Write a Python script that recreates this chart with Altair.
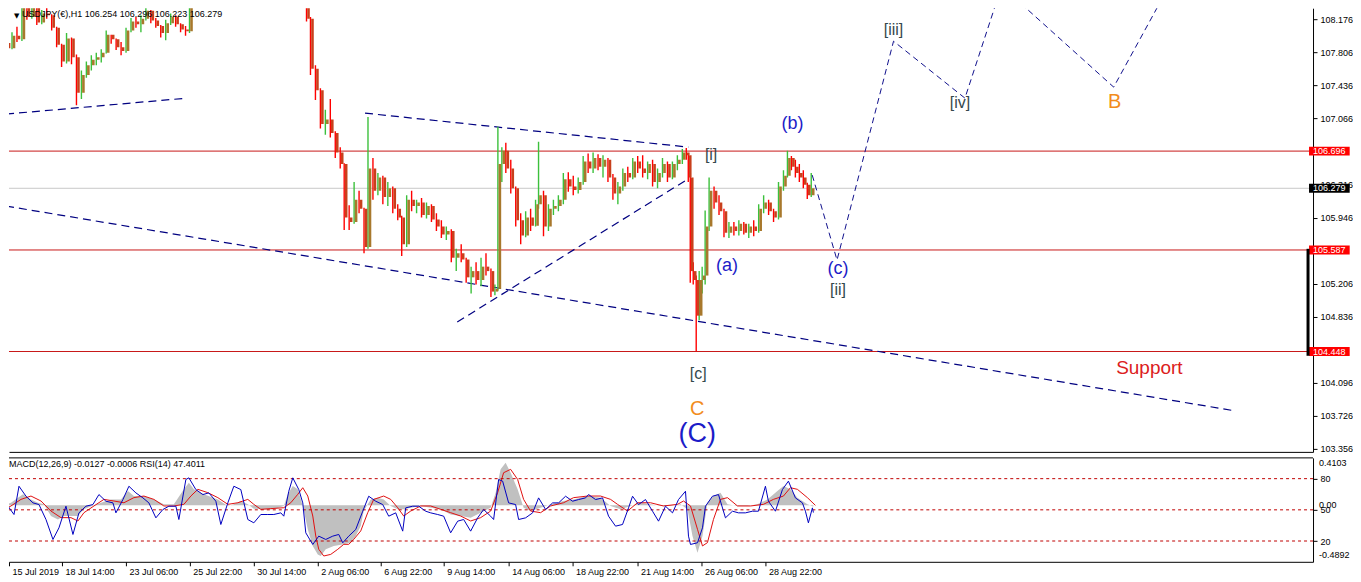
import altair as alt
import pandas as pd

FONT = "Liberation Sans"

# ---------------- price panel data (x = position of the H1 bar on the time axis) ----------------
candle_x = [2, 7, 12, 17, 22, 27, 32, 37, 42, 47, 52, 57, 62, 67, 72, 77, 82, 87, 92, 97,
            102, 107, 112, 117, 122, 127, 132, 137, 142, 147, 152, 157, 162, 167, 172, 177, 182, 186,
            304, 308, 313, 318, 323, 328, 333, 338, 342, 347, 352, 357, 362, 366, 371, 376, 381, 386,
            391, 396, 400, 405, 410, 415, 420, 425, 430, 435, 440, 445, 450, 455, 460, 465, 470, 475,
            480, 485, 490, 494, 497, 501, 505, 510, 515, 520, 525, 530, 535, 538, 543, 548, 553, 558,
            563, 568, 573, 578, 583, 588, 593, 598, 603, 608, 613, 618, 623, 628, 633, 638, 643, 648,
            653, 658, 663, 668, 673, 678, 683, 687, 689, 691, 694, 697, 700, 703, 706, 710, 715, 720,
            725, 730, 735, 740, 745, 750, 755, 760, 765, 770, 775, 780, 785, 789, 793, 797, 801, 805,
            809, 813]
candle_open = [107.91, 107.85, 107.99, 107.95, 108.30, 108.20, 108.30, 108.14, 108.24, 108.22,
               108.08, 107.89, 107.70, 107.96, 107.75, 107.35, 107.55, 107.66, 107.72, 107.75,
               107.80, 108.00, 107.95, 107.86, 107.82, 108.05, 108.15, 108.12, 108.18, 108.27,
               108.16, 108.10, 108.02, 108.13, 108.20, 108.12, 108.06, 108.04,
               108.50, 108.18, 107.62, 107.38, 107.00, 107.05, 106.90, 106.68, 106.55, 105.95,
               105.90, 106.15, 106.05, 105.62, 106.50, 106.25, 106.40, 106.18, 106.28, 106.05,
               105.95, 105.65, 106.15, 106.08, 106.12, 105.98, 106.08, 105.93, 105.85, 105.76,
               105.80, 105.50, 105.55, 105.48, 105.28, 105.35, 105.25, 105.40, 105.35, 105.12,
               105.15, 106.55, 106.70, 106.50, 106.28, 105.92, 105.75, 105.95, 105.86, 106.10,
               106.20, 105.85, 106.05, 106.08, 106.15, 106.38, 106.30, 106.26, 106.35, 106.58,
               106.50, 106.62, 106.52, 106.60, 106.40, 106.22, 106.30, 106.45, 106.40, 106.58,
               106.50, 106.45, 106.55, 106.35, 106.45, 106.55, 106.40, 106.55, 106.60, 106.68,
               106.65, 106.40, 105.35, 105.25, 104.85, 105.25, 105.30, 105.85, 106.25, 106.12,
               106.02, 105.78, 105.85, 105.80, 105.88, 105.78, 105.85, 105.80, 106.05, 106.12,
               106.02, 105.95, 106.30, 106.42, 106.62, 106.52, 106.45, 106.40, 106.32, 106.20]
candle_high = [107.94, 108.03, 108.09, 108.37, 108.33, 108.37, 108.31, 108.28, 108.30, 108.23,
               108.09, 107.90, 108.02, 107.97, 107.78, 107.60, 107.70, 107.77, 107.80, 107.84,
               108.05, 108.00, 107.96, 107.92, 108.08, 108.19, 108.20, 108.22, 108.30, 108.28,
               108.19, 108.11, 108.17, 108.24, 108.22, 108.13, 108.10, 108.45,
               108.55, 108.20, 107.66, 107.40, 107.16, 107.28, 106.92, 106.74, 106.56, 106.09,
               106.35, 106.25, 106.06, 107.08, 106.62, 106.45, 106.42, 106.35, 106.30, 106.10,
               105.97, 106.20, 106.25, 106.15, 106.17, 106.12, 106.10, 106.00, 105.92, 105.85,
               105.82, 105.60, 105.65, 105.50, 105.40, 105.45, 105.50, 105.55, 105.38, 105.20,
               106.97, 106.74, 106.79, 106.60, 106.30, 106.00, 106.02, 106.05, 106.15, 106.80,
               106.25, 106.10, 106.15, 106.20, 106.45, 106.46, 106.42, 106.40, 106.64, 106.67,
               106.68, 106.66, 106.65, 106.62, 106.44, 106.35, 106.50, 106.52, 106.62, 106.64,
               106.65, 106.58, 106.60, 106.50, 106.62, 106.58, 106.58, 106.65, 106.72, 106.73,
               106.66, 106.45, 105.45, 105.30, 105.35, 105.40, 106.03, 106.40, 106.30, 106.20,
               106.05, 105.90, 105.90, 105.92, 105.90, 105.88, 105.92, 106.10, 106.20, 106.15,
               106.05, 106.35, 106.48, 106.70, 106.64, 106.60, 106.55, 106.48, 106.34, 106.45]
candle_low = [107.83, 107.84, 107.92, 107.93, 108.17, 108.18, 108.11, 108.12, 108.18, 108.05,
              107.86, 107.64, 107.68, 107.67, 107.21, 107.28, 107.52, 107.60, 107.66, 107.69,
              107.79, 107.90, 107.83, 107.77, 107.80, 108.03, 108.08, 108.03, 108.16, 108.13,
              108.08, 107.97, 107.94, 108.11, 108.09, 108.03, 107.99, 108.02,
              108.15, 107.55, 107.27, 106.95, 106.88, 106.85, 106.62, 106.50, 105.81, 105.81,
              105.88, 106.00, 105.55, 105.60, 106.15, 106.20, 106.10, 106.08, 106.00, 105.92,
              105.52, 105.62, 106.02, 106.00, 105.95, 105.94, 105.90, 105.80, 105.72, 105.70,
              105.45, 105.35, 105.45, 105.22, 105.10, 105.20, 105.18, 105.30, 105.06, 105.08,
              105.13, 106.35, 106.45, 106.22, 105.85, 105.65, 105.73, 105.80, 105.85, 106.05,
              105.74, 105.80, 105.98, 106.02, 106.10, 106.24, 106.20, 106.22, 106.32, 106.45,
              106.45, 106.48, 106.40, 106.35, 106.15, 106.10, 106.25, 106.35, 106.38, 106.45,
              106.40, 106.38, 106.30, 106.28, 106.40, 106.35, 106.38, 106.48, 106.55, 106.60,
              106.35, 105.22, 105.20, 104.45, 104.80, 105.10, 105.20, 105.80, 106.05, 105.98,
              105.73, 105.72, 105.75, 105.75, 105.76, 105.72, 105.74, 105.78, 106.00, 105.98,
              105.90, 105.93, 106.25, 106.40, 106.48, 106.40, 106.35, 106.28, 106.16, 106.18]
candle_close = [107.85, 107.99, 107.95, 108.30, 108.20, 108.30, 108.14, 108.24, 108.22, 108.08,
                107.89, 107.70, 107.96, 107.75, 107.35, 107.55, 107.66, 107.72, 107.75, 107.80,
                108.00, 107.95, 107.86, 107.82, 108.05, 108.15, 108.12, 108.18, 108.27, 108.16,
                108.10, 108.02, 108.13, 108.20, 108.12, 108.06, 108.04, 108.40,
                108.18, 107.62, 107.38, 107.00, 107.05, 106.90, 106.68, 106.55, 105.95, 105.90,
                106.15, 106.05, 105.62, 106.50, 106.25, 106.40, 106.18, 106.28, 106.05, 105.95,
                105.65, 106.15, 106.08, 106.12, 105.98, 106.08, 105.93, 105.85, 105.76, 105.80,
                105.50, 105.55, 105.48, 105.28, 105.35, 105.25, 105.40, 105.35, 105.12, 105.15,
                106.55, 106.70, 106.50, 106.28, 105.92, 105.75, 105.95, 105.86, 106.10, 106.20,
                105.85, 106.05, 106.08, 106.15, 106.38, 106.30, 106.26, 106.35, 106.58, 106.50,
                106.62, 106.52, 106.60, 106.40, 106.22, 106.30, 106.45, 106.40, 106.58, 106.50,
                106.45, 106.55, 106.35, 106.45, 106.55, 106.40, 106.55, 106.60, 106.68, 106.65,
                106.40, 105.35, 105.25, 104.85, 105.25, 105.30, 105.85, 106.25, 106.12, 106.02,
                105.78, 105.85, 105.80, 105.88, 105.78, 105.85, 105.80, 106.05, 106.12, 106.02,
                105.95, 106.30, 106.42, 106.62, 106.52, 106.45, 106.40, 106.32, 106.20, 106.279]

level_prices = [106.696, 105.587, 104.448]
last_price = 106.279
# scale labels of the price axis that are not hidden behind the level boxes
price_ticks = [108.176, 107.806, 107.436, 107.066, 106.316, 105.946,
               105.206, 104.836, 104.096, 103.726, 103.356]

trend_id = ["t1", "t1", "t2", "t2", "t3", "t3", "t4", "t4"]
trend_x = [0, 182, 0, 1240, 362, 688, 455, 686]
trend_p = [107.111, 107.290, 106.080, 103.781, 107.122, 106.741, 104.779, 106.371]

path_x = [813, 838, 895, 967, 1004, 1117, 1176]
path_p = [106.427, 105.474, 107.929, 107.290, 108.546, 107.414, 108.613]

blue_text = ["(a)", "(b)", "(c)"]
blue_x = [727, 793, 839]
blue_p = [105.407, 106.999, 105.373]
grey_text = ["[i]", "[ii]", "[iii]", "[iv]", "[c]"]
grey_x = [711, 839, 895, 962, 698]
grey_p = [106.651, 105.138, 108.053, 107.234, 104.196]
orange_text = ["C", "B"]
orange_x = [697, 1118]
orange_p = [103.804, 107.245]
big_text = ["(C)"]
big_x = [697]
big_p = [103.523]
support_text = ["Support"]
support_x = [1153]
support_p = [104.263]

# ---------------- indicator panel data ----------------
rsi_x = [0, 7, 13, 18, 25, 32, 38, 45, 52, 58, 65, 72, 78, 85, 92, 98, 105, 112, 115, 122,
         128, 135, 142, 148, 155, 162, 168, 175, 178, 185, 188, 195, 202, 208, 215, 220, 227, 233, 240, 247,
         253, 260, 267, 273, 280, 283, 288, 292, 298, 302, 305, 312, 318, 325, 332, 338, 342, 348, 355, 362,
         368, 375, 382, 388, 395, 402, 405, 412, 418, 425,
         430, 437, 443, 450, 457, 463, 470, 477, 483, 490, 493, 498, 502, 508, 515, 518, 525, 532, 538, 545,
         552, 558, 565, 572, 578, 585, 588, 595, 602, 608, 615, 622, 628, 632, 638, 645, 652, 658, 665, 672,
         678, 685, 688, 690, 697, 702, 705, 712, 718, 725, 732, 738, 745, 752, 758, 765, 768, 775, 782, 788,
         795, 802, 805, 808, 812, 813]
rsi_v = [43.9, 53.5, 45.5, 72.7, 63.1, 56.7, 55.1, 40.7, 21.5, 32.7, 53.5, 26.3, 47.1, 53.5, 55.1, 64.7, 58.3, 56.7, 47.1, 59.9,
         72.7, 66.3, 61.5, 56.7, 42.3, 50.3, 53.5, 53.5, 40.7, 79.2, 80.8, 69.5, 64.7, 66.3, 58.3, 35.9, 56.7, 72.7, 69.5, 40.7,
         37.5, 45.5, 45.5, 45.5, 47.1, 43.9, 67.9, 80.8, 69.5, 56.7, 27.9, 16.7, 24.7, 21.5, 24.7, 26.3, 18.3, 24.7, 31.1, 48.7,
         63.1, 58.3, 55.1, 43.9, 47.1, 29.5, 51.9, 53.5, 53.5, 48.7,
         47.1, 45.5, 43.9, 27.9, 39.1, 40.7, 29.5, 42.3, 50.3, 43.9, 40.7, 79.2, 77.6, 56.7, 55.1, 40.7, 42.3, 47.1, 61.5, 50.3,
         56.7, 56.7, 63.1, 58.3, 59.9, 61.5, 64.7, 59.9, 61.5, 43.9, 34.3, 35.9, 51.9, 63.1, 55.1, 59.9, 48.7, 39.1, 53.5, 47.1,
         59.9, 67.9, 24.7, 16.7, 18.3, 32.7, 53.5, 63.1, 64.7, 42.3, 48.7, 47.1, 47.1, 48.7, 48.7, 72.7, 58.3, 48.7, 69.5, 77.6,
         61.5, 56.7, 48.7, 37.5, 51.9, 47.4]

signal_x = [0, 10, 20, 30, 40, 50, 60, 70, 77, 83, 93, 103, 113, 123, 133, 143, 153, 163, 173, 183,
            190, 197, 207, 217, 227, 237, 247, 253, 260, 270, 283, 290, 297, 302, 307, 312, 315, 318, 323, 330,
            337, 343, 348, 353, 360, 367, 373, 383, 390, 397, 403, 410, 420, 430, 440, 450, 460, 470, 480, 490,
            497, 503, 510, 517, 523, 530, 540, 550, 563, 573, 587, 600, 610, 617, 627, 637, 650, 663, 677, 683,
            690, 697, 702, 707, 713, 720, 727, 737, 750, 763, 773, 783, 790, 797, 807, 815]
signal_v = [-0.050, -0.006, 0.051, 0.080, 0.037, -0.050, -0.107, -0.107, -0.136, -0.064,
            -0.006, 0.051, 0.037, 0.022, 0.066, 0.080, 0.051, -0.006, -0.006, 0.008,
            0.080, 0.138, 0.109, 0.066, 0.008, 0.022, 0.051, 0.008, -0.035, -0.029,
            -0.021, 0.022, 0.095, 0.152, 0.080, -0.093, -0.266, -0.381, -0.439, -0.425,
            -0.381, -0.338, -0.338, -0.295, -0.222, -0.064, 0.051, 0.080, 0.051, -0.021,
            -0.093, -0.050, -0.006, -0.006, -0.035, -0.064, -0.093, -0.136, -0.107, -0.050,
            0.109, 0.282, 0.311, 0.224, 0.051, -0.050, -0.064, -0.006, 0.022, 0.066,
            0.080, 0.080, 0.051, 0.008, -0.050, 0.022, 0.022, -0.006, 0.008, 0.037,
            -0.006, -0.208, -0.352, -0.323, -0.122, 0.051, 0.066, -0.006, -0.006, 0.008,
            0.051, 0.080, 0.152, 0.138, 0.066, -0.0006]

macd_x = [0, 10, 17, 22, 30, 37, 43, 50, 57, 63, 72, 77, 83, 93, 100, 110, 120, 127, 133, 143,
          153, 163, 173, 183, 188, 193, 203, 217, 227, 233, 240, 247, 253, 263, 273, 283, 287, 292, 297, 302,
          307, 312, 317, 320, 325, 333, 343, 350, 355, 360, 363, 367, 370, 377, 383, 390, 397, 403, 410, 420,
          430, 440, 450, 460, 470, 480, 490, 495, 500, 505, 510, 517, 523, 530, 540, 550, 563, 573, 587, 600,
          610, 620, 630, 640, 650, 660, 670, 680, 687, 692, 697, 702, 707, 713, 720, 727, 737, 747, 757, 767,
          777, 783, 790, 797, 807, 813]
macd_v = [-0.006, 0.022, 0.066, 0.095, 0.051, 0.022, 0.008, -0.093, -0.122, -0.093,
          -0.093, -0.093, -0.035, 0.000, 0.022, 0.051, 0.051, 0.123, 0.080, 0.080,
          0.051, 0.008, 0.008, 0.138, 0.196, 0.138, 0.095, 0.051, -0.006, 0.008,
          0.037, 0.008, -0.029, -0.035, -0.035, -0.006, 0.095, 0.167, 0.138, -0.006,
          -0.208, -0.352, -0.425, -0.439, -0.381, -0.352, -0.338, -0.323, -0.266, -0.179,
          -0.050, 0.008, 0.051, 0.066, 0.051, -0.006, -0.035, -0.035, -0.021, -0.006,
          -0.021, -0.035, -0.079, -0.093, -0.107, -0.064, -0.021, 0.109, 0.311, 0.368,
          0.282, 0.138, -0.021, -0.050, -0.021, 0.008, 0.037, 0.051, 0.080, 0.066,
          -0.006, -0.035, -0.006, 0.022, 0.008, -0.006, -0.006, 0.008, -0.035, -0.266,
          -0.410, -0.266, 0.022, 0.080, 0.109, 0.008, -0.006, -0.006, 0.008, 0.051,
          0.123, 0.167, 0.138, 0.066, 0.008, -0.0127]

rsi_levels = [80, 50, 20]
date_ticks = [8, 61, 125, 189, 253, 317, 380, 443, 508, 572, 637, 701, 765]
date_labels = ["15 Jul 2019", "18 Jul 14:00", "23 Jul 06:00", "25 Jul 22:00", "30 Jul 14:00",
               "2 Aug 06:00", "6 Aug 22:00", "9 Aug 14:00", "14 Aug 06:00", "18 Aug 22:00",
               "21 Aug 14:00", "26 Aug 06:00", "28 Aug 22:00"]

title_text = "USDJPY(€),H1  106.254 106.296 106.223 106.279"
sub_title_text = "MACD(12,26,9) -0.0127 -0.0006 RSI(14) 47.4011"

# ---------------- scales / axes ----------------
W, HM, HS = 1305, 444, 104
GREEN, RED, BROWN = "#3CC03C", "#FF0000", "#A8782C"
NAVY = "#000080"

x_scale = alt.Scale(domain=[8, 1313], nice=False, zero=False)
p_scale = alt.Scale(domain=[103.322, 108.299], nice=False, zero=False)
r_scale = alt.Scale(domain=[0, 100], nice=False, zero=False)
m_scale = alt.Scale(domain=[-0.4892, 0.4103], nice=False, zero=False)

ax_x_main = alt.Axis(title=None, labels=False, ticks=False, grid=False, domain=True,
                     domainColor="black", domainWidth=1)
label_expr = " : ".join(f"datum.value == {t} ? '{l}'" for t, l in zip(date_ticks, date_labels)) + " : ''"
ax_x_sub = alt.Axis(title=None, values=date_ticks, labelExpr=label_expr, labelAlign="left",
                    labelOffset=3, labelPadding=2, tickSize=4, tickColor="black", domainColor="black",
                    grid=False, labelFont=FONT, labelFontSize=9, labelColor="black",
                    labelOverlap=False, labelFlush=False, labelBound=False)
ax_p = alt.Axis(title=None, orient="right", values=price_ticks, format=".3f", grid=False, tickSize=4,
                tickColor="black", domainColor="black", labelFont=FONT, labelFontSize=9,
                labelColor="black", labelPadding=3, labelOverlap=False, labelFlush=False, labelBound=False)
ax_r = alt.Axis(title=None, orient="right", values=rsi_levels, format="d", grid=False, tickSize=4,
                tickColor="black", domainColor="black", labelFont=FONT, labelFontSize=9,
                labelColor="black", labelPadding=3, labelOverlap=False, labelFlush=False, labelBound=False)


def XM(f):
    return alt.X(f, type="quantitative", scale=x_scale, axis=ax_x_main)


def XS(f):
    return alt.X(f, type="quantitative", scale=x_scale, axis=ax_x_sub)


def YP(f):
    return alt.Y(f, type="quantitative", scale=p_scale, axis=ax_p)


def YR(f):
    return alt.Y(f, type="quantitative", scale=r_scale, axis=ax_r)


def YM(f):
    return alt.Y(f, type="quantitative", scale=m_scale, axis=None)


# ---------------- main panel ----------------
cdf = pd.DataFrame({"x": candle_x, "o": candle_open, "h": candle_high, "l": candle_low, "c": candle_close})
up = "datum.c >= datum.o"

wicks = alt.Chart(cdf).mark_rule(strokeWidth=1.4, clip=True, xOffset=-1).encode(
    x=XM("x"), y=YP("l"), y2=alt.Y2("h"),
    color=alt.condition(up, alt.value(GREEN), alt.value(RED)))
bodies = alt.Chart(cdf).mark_bar(size=2.6, clip=True, xOffset=1).encode(
    x=XM("x"), y=YP("o"), y2=alt.Y2("c"),
    color=alt.condition(up, alt.value(BROWN), alt.value("#C8401C")))

lv = pd.DataFrame({"p": level_prices})
levels = alt.Chart(lv).mark_rule(color="#C81818", strokeWidth=1).encode(y=YP("p"))
cur = alt.Chart(pd.DataFrame({"p": [last_price]})).mark_rule(color="#C8C8C8", strokeWidth=1).encode(y=YP("p"))

tdf = pd.DataFrame({"g": trend_id, "x": trend_x, "p": trend_p})
trends = alt.Chart(tdf).mark_line(color=NAVY, strokeWidth=1.2, strokeDash=[8, 5], clip=True).encode(
    x=XM("x"), y=YP("p"), detail="g:N")

pdf = pd.DataFrame({"i": list(range(len(path_x))), "x": path_x, "p": path_p})
path = alt.Chart(pdf).mark_line(color="#10108C", strokeWidth=1, strokeDash=[6, 4], clip=True).encode(
    x=XM("x"), y=YP("p"), order="i:Q")


def labels(ts, xs, ps, color, size, **kw):
    df = pd.DataFrame({"t": ts, "x": xs, "p": ps})
    return alt.Chart(df).mark_text(color=color, fontSize=size, font=FONT, **kw).encode(
        x=XM("x"), y=YP("p"), text="t:N")


lab_blue = labels(blue_text, blue_x, blue_p, "#1C1CC8", 18)
lab_grey = labels(grey_text, grey_x, grey_p, "#34484C", 16)
lab_orange = labels(orange_text, orange_x, orange_p, "#F28C1C", 20)
lab_big = labels(big_text, big_x, big_p, "#1C1CC8", 27)
lab_support = labels(support_text, support_x, support_p, "#DC2020", 19)

title_df = pd.DataFrame({"t": [title_text], "x": [16], "p": [108.299]})
title = alt.Chart(title_df).mark_text(align="left", baseline="top", dy=2, fontSize=9, font=FONT,
                                      color="black").encode(x=XM("x"), y=YP("p"), text="t:N")
tri = alt.Chart(pd.DataFrame({"t": ["▼"], "x": [8], "p": [108.299]})).mark_text(
    align="left", baseline="top", dy=4, fontSize=7, font="DejaVu Sans", color="black").encode(
    x=XM("x"), y=YP("p"), text="t:N")

# right-axis price boxes
box_df = pd.DataFrame({"p": level_prices + [last_price],
                       "t": [f"{v:.3f}" for v in level_prices + [last_price]],
                       "k": ["lvl", "lvl", "lvl", "last"]})
box_df["top"] = box_df["p"] + 0.05
box_df["bot"] = box_df["p"] - 0.05
box_df["bx"] = 1314
box_df["bx2"] = 1355
box_df["tx"] = 1318
boxes = alt.Chart(box_df).mark_rect().encode(
    x=XM("bx"), x2=alt.X2("bx2"), y=YP("top"), y2=alt.Y2("bot"),
    color=alt.condition("datum.k == 'last'", alt.value("black"), alt.value("#FF0000")))
box_txt = alt.Chart(box_df).mark_text(align="left", baseline="middle", fontSize=9, font=FONT,
                                      color="white").encode(x=XM("tx"), y=YP("p"), text="t:N")
bar_df = pd.DataFrame({"x": [1313], "p": [105.60], "p2": [104.40]})
drag_bar = alt.Chart(bar_df).mark_rule(color="black", strokeWidth=3).encode(
    x=XM("x"), y=YP("p"), y2=alt.Y2("p2"))

main = alt.layer(levels, cur, trends, wicks, bodies, path, lab_blue, lab_grey, lab_orange, lab_big,
                 lab_support, title, tri, boxes, box_txt, drag_bar).properties(width=W, height=HM)

# ---------------- indicator panel ----------------
mdf = pd.DataFrame({"x": macd_x, "m": macd_v})
sdf = pd.DataFrame({"x": signal_x, "m": signal_v})
rdf = pd.DataFrame({"x": rsi_x, "r": rsi_v})

hist = alt.Chart(mdf).mark_area(color="#C0C0C0", clip=True).encode(x=XS("x"), y=YM("m"), y2=alt.datum(0))
sig = alt.Chart(sdf).mark_line(color="#E01010", strokeWidth=1, clip=True).encode(x=XS("x"), y=YM("m"))
mlab_df = pd.DataFrame({"t": ["0.4103", "0.00", "-0.4892"], "x": [1319] * 3, "m": [0.4103, 0.0, -0.4892]})
mlab_top = alt.Chart(mlab_df.iloc[[0]]).mark_text(align="left", baseline="top", dy=1, fontSize=9, font=FONT,
                                                 color="black").encode(x=XS("x"), y=YM("m"), text="t:N")
mlab_mid = alt.Chart(mlab_df.iloc[[1]]).mark_text(align="left", baseline="middle", fontSize=9, font=FONT,
                                                 color="black").encode(x=XS("x"), y=YM("m"), text="t:N")
mlab_bot = alt.Chart(mlab_df.iloc[[2]]).mark_text(align="left", baseline="bottom", dy=-2, fontSize=9, font=FONT,
                                                 color="black").encode(x=XS("x"), y=YM("m"), text="t:N")
macd_part = alt.layer(hist, sig, mlab_top, mlab_mid, mlab_bot)

lvl_df = pd.DataFrame({"r": rsi_levels})
rsi_lv = alt.Chart(lvl_df).mark_rule(color="#C00000", strokeDash=[3, 3], strokeWidth=1).encode(y=YR("r"))
top_df = pd.DataFrame({"r": [100]})
top_rule = alt.Chart(top_df).mark_rule(color="black", strokeWidth=1).encode(y=YR("r"))
rsi_line = alt.Chart(rdf).mark_line(color="#0000C0", strokeWidth=1, clip=True).encode(x=XS("x"), y=YR("r"))
sub_title = alt.Chart(pd.DataFrame({"t": [sub_title_text], "x": [8], "r": [100]})).mark_text(
    align="left", baseline="top", dy=2, fontSize=9, font=FONT, color="black").encode(
    x=XS("x"), y=YR("r"), text="t:N")
rsi_part = alt.layer(rsi_lv, top_rule, rsi_line, sub_title)

sub = alt.layer(macd_part, rsi_part).resolve_scale(y="independent").properties(width=W, height=HS)

chart = alt.vconcat(main, sub, spacing=3).properties(padding=0, background="white").configure_view(stroke=None)

chart.save("out.html", embed_options={"renderer": "svg", "actions": False})
